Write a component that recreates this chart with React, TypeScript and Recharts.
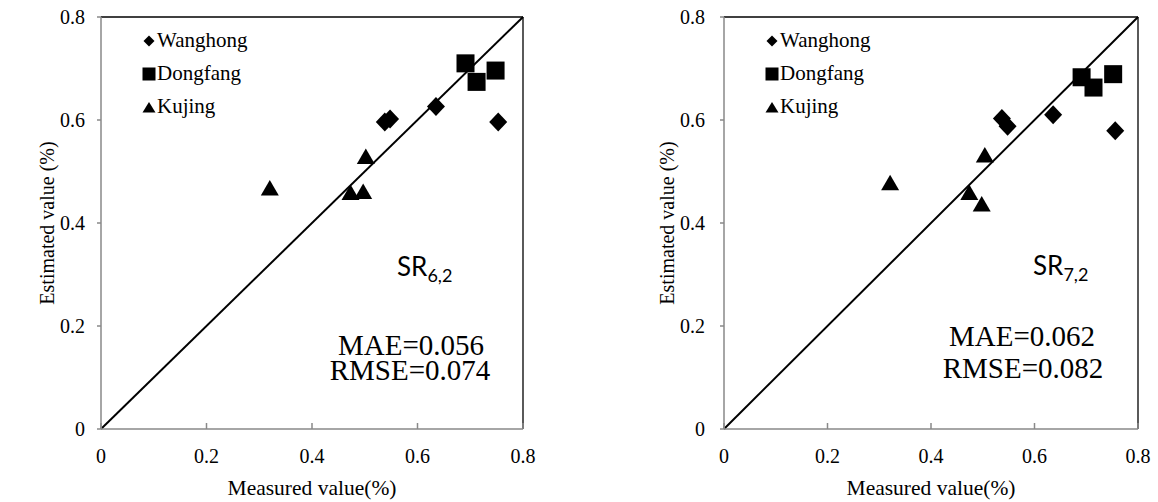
import React from 'react';
import { ScatterChart, Scatter, XAxis, YAxis, ReferenceLine, Legend } from 'recharts';

const axisTicks = [0, 0.2, 0.4, 0.6, 0.8];
const seriesNames = ['Wanghong', 'Dongfang', 'Kujing'];

// Panel 1: SR6,2
const wanghong62 = [
  { x: 0.538, y: 0.596 },
  { x: 0.548, y: 0.602 },
  { x: 0.635, y: 0.626 },
  { x: 0.753, y: 0.596 },
];
const dongfang62 = [
  { x: 0.691, y: 0.710 },
  { x: 0.712, y: 0.674 },
  { x: 0.748, y: 0.696 },
];
const kujing62 = [
  { x: 0.320, y: 0.468 },
  { x: 0.473, y: 0.459 },
  { x: 0.497, y: 0.461 },
  { x: 0.502, y: 0.529 },
];

// Panel 2: SR7,2
const wanghong72 = [
  { x: 0.537, y: 0.603 },
  { x: 0.548, y: 0.588 },
  { x: 0.636, y: 0.610 },
  { x: 0.756, y: 0.579 },
];
const dongfang72 = [
  { x: 0.691, y: 0.683 },
  { x: 0.714, y: 0.663 },
  { x: 0.752, y: 0.689 },
];
const kujing72 = [
  { x: 0.321, y: 0.478 },
  { x: 0.474, y: 0.459 },
  { x: 0.498, y: 0.437 },
  { x: 0.504, y: 0.532 },
];

const SERIF = '"Liberation Serif", "Times New Roman", serif';
const SANS = 'Lato, "Noto Sans", sans-serif';
const AXIS = '#898989';

const fmt = (v: number) => (v === 0 ? '0' : String(Number(v.toFixed(1))));

const DiamondShape = (p: any) => {
  const { cx, cy } = p;
  return <path d={`M${cx},${cy - 9.5}L${cx + 9},${cy}L${cx},${cy + 9.5}L${cx - 9},${cy}Z`} fill="#000" />;
};
const SquareShape = (p: any) => {
  const { cx, cy } = p;
  return <rect x={cx - 9} y={cy - 9} width={18} height={18} fill="#000" />;
};
const TriangleShape = (p: any) => {
  const { cx, cy } = p;
  return <path d={`M${cx},${cy - 8}L${cx + 9},${cy + 7.5}L${cx - 9},${cy + 7.5}Z`} fill="#000" />;
};

const legendIcon = (i: number) => {
  if (i === 0) return <svg width={14} height={14}><path d="M7,1.5L12.5,7L7,12.5L1.5,7Z" fill="#000" /></svg>;
  if (i === 1) return <svg width={14} height={14}><rect x={0.5} y={0.5} width={13} height={13} fill="#000" /></svg>;
  return <svg width={14} height={14}><path d="M7,2L13.5,12.5L0.5,12.5Z" fill="#000" /></svg>;
};

const LegendContent = (props: any) => {
  const payload = [...(props.payload || [])].sort(
    (a: any, b: any) => seriesNames.indexOf(a.value) - seriesNames.indexOf(b.value)
  );
  return (
    <div style={{ fontFamily: SERIF, fontSize: 21, color: '#000' }}>
      {payload.map((e: any, i: number) => (
        <div key={i} style={{ display: 'flex', alignItems: 'center', height: 33, whiteSpace: 'nowrap' }}>
          {legendIcon(seriesNames.indexOf(e.value))}
          <span style={{ marginLeft: 1 }}>{e.value}</span>
        </div>
      ))}
    </div>
  );
};

const XTick = (props: any) => {
  const { x, y, payload } = props;
  const axisY = y - 8;
  return (
    <g>
      <line x1={x} x2={x} y1={axisY} y2={axisY - 6} stroke={AXIS} strokeWidth={1.5} />
      <text x={x} y={y} dy={26} textAnchor="middle" fill="#000" fontSize={20} fontFamily={SERIF}>
        {fmt(payload.value)}
      </text>
    </g>
  );
};

function Panel({ left, width, yAxisWidth, rightMargin, legendLeft, wang, dong, kuj }: any) {
  return (
    <div style={{ position: 'absolute', left, top: 0 }}>
      <ScatterChart width={width} height={502} margin={{ top: 17, right: rightMargin, bottom: 0, left: 0 }}>
        <XAxis
          type="number"
          dataKey="x"
          domain={[0, 0.8]}
          ticks={axisTicks}
          height={73}
          axisLine={{ stroke: AXIS, strokeWidth: 1.5 }}
          tickLine={false}
          tickSize={6}
          tickMargin={2}
          tick={(p: any) => <XTick {...p} />}
          allowDataOverflow
          label={{
            value: 'Measured value(%)',
            position: 'insideBottom',
            offset: 7,
            fill: '#000',
            fontSize: 21.5,
            fontFamily: SERIF,
          }}
        />
        <YAxis
          type="number"
          dataKey="y"
          domain={[0, 0.8]}
          ticks={axisTicks}
          width={yAxisWidth}
          axisLine={{ stroke: AXIS, strokeWidth: 1.5 }}
          tickLine={{ stroke: AXIS, strokeWidth: 1.5 }}
          tickSize={4}
          tickMargin={yAxisWidth - 89}
          tickFormatter={fmt}
          tick={{ fill: '#000', fontSize: 20, fontFamily: SERIF }}
          allowDataOverflow
          label={{
            value: 'Estimated value (%)',
            angle: -90,
            position: 'insideLeft',
            offset: 47,
            fill: '#000',
            fontSize: 20,
            fontFamily: SERIF,
            style: { textAnchor: 'middle' },
          }}
        />
        <ReferenceLine y={0.8} stroke="#000" strokeWidth={1.3} ifOverflow="visible" />
        <ReferenceLine x={0.8} stroke="#000" strokeWidth={1.3} ifOverflow="visible" />
        <ReferenceLine
          segment={[{ x: 0, y: 0 }, { x: 0.8, y: 0.8 }]}
          stroke="#000"
          strokeWidth={2}
          ifOverflow="visible"
        />
        <Legend
          layout="horizontal"
          verticalAlign="middle"
          align="center"
          content={LegendContent}
          wrapperStyle={{ left: legendLeft, top: 24, width: 160, height: 100 }}
        />
        <Scatter name={seriesNames[0]} data={wang} shape={DiamondShape} fill="#000" isAnimationActive={false} />
        <Scatter name={seriesNames[1]} data={dong} shape={SquareShape} fill="#000" isAnimationActive={false} />
        <Scatter name={seriesNames[2]} data={kuj} shape={TriangleShape} fill="#000" isAnimationActive={false} />
      </ScatterChart>
    </div>
  );
}

export default function App() {
  return (
    <div style={{ position: 'absolute', left: 0, top: 0, width: 1158, height: 502, background: '#fff' }}>
      <Panel left={0} width={579} yAxisWidth={101} rightMargin={56} legendLeft={142} wang={wanghong62} dong={dongfang62} kuj={kujing62} />
      <Panel left={620} width={538} yAxisWidth={104} rightMargin={20} legendLeft={145} wang={wanghong72} dong={dongfang72} kuj={kujing72} />
      <svg width={1158} height={502} style={{ position: 'absolute', left: 0, top: 0, pointerEvents: 'none' }}>
        <text x={397} y={276} fontFamily={SANS} fontSize={26} fill="#000">
          SR<tspan fontSize={18} dy={6}>6,2</tspan>
        </text>
        <text x={411} y={355} fontFamily={SERIF} fontSize={29} fill="#000" textAnchor="middle">MAE=0.056</text>
        <text x={410} y={380} fontFamily={SERIF} fontSize={29} fill="#000" textAnchor="middle">RMSE=0.074</text>
        <text x={1033} y={275} fontFamily={SANS} fontSize={26} fill="#000">
          SR<tspan fontSize={18} dy={6}>7,2</tspan>
        </text>
        <text x={1022} y={346} fontFamily={SERIF} fontSize={29} fill="#000" textAnchor="middle">MAE=0.062</text>
        <text x={1023} y={378} fontFamily={SERIF} fontSize={29} fill="#000" textAnchor="middle">RMSE=0.082</text>
      </svg>
    </div>
  );
}
